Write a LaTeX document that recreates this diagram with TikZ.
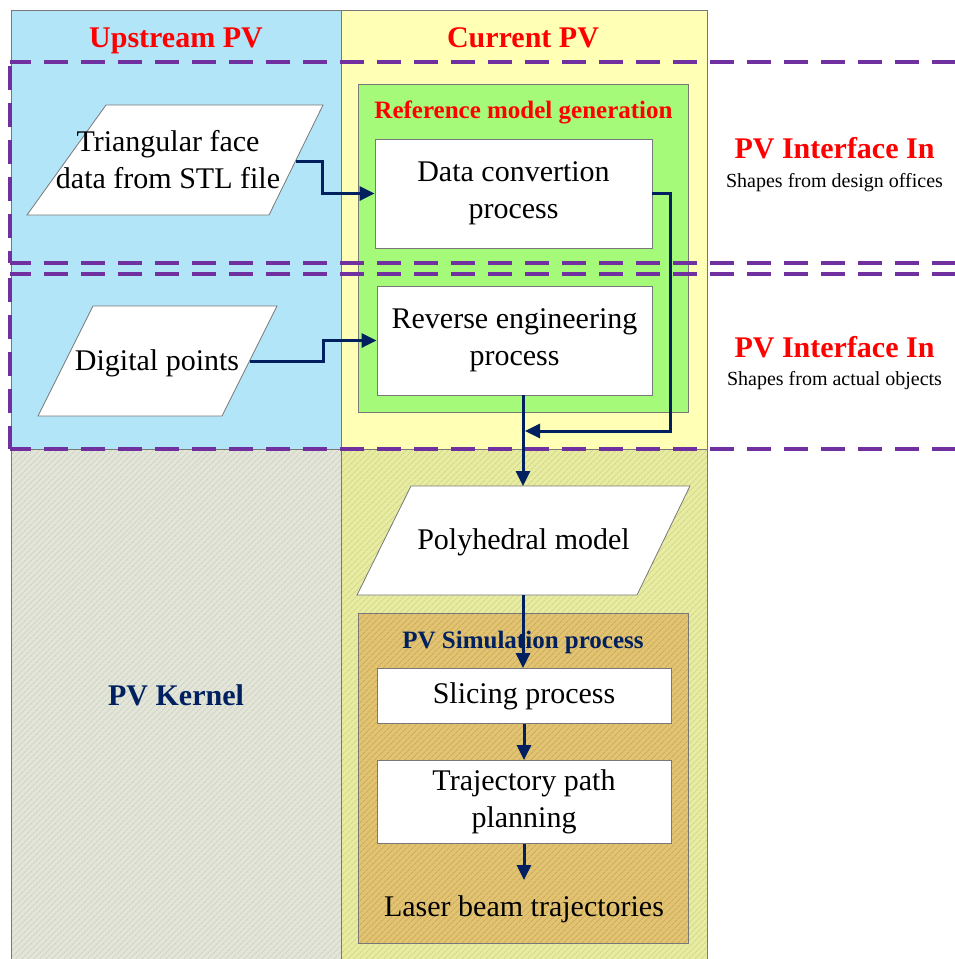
\documentclass[tikz,border=0pt]{standalone}
\usepackage{fontspec}
\setmainfont{Liberation Serif}
\usetikzlibrary{arrows.meta,patterns.meta}
\definecolor{ublue}{RGB}{179,229,249}
\definecolor{cyell}{RGB}{255,255,181}
\definecolor{rgreen}{RGB}{166,250,122}
\definecolor{kgrey}{RGB}{226,229,216}
\definecolor{kgreys}{RGB}{206,211,196}
\definecolor{kyel}{RGB}{232,236,162}
\definecolor{kyels}{RGB}{210,216,134}
\definecolor{sbrown}{RGB}{226,195,114}
\definecolor{sbrowns}{RGB}{204,172,92}
\definecolor{navy}{RGB}{0,32,96}
\definecolor{dpurple}{RGB}{112,48,160}
\definecolor{bordergrey}{RGB}{120,120,120}
\begin{document}
\begin{tikzpicture}[x=1pt,y=-1pt,
  colborder/.style={draw=bordergrey,line width=0.8pt},
  procbox/.style={draw=bordergrey,fill=white,line width=0.8pt,inner sep=2pt,
    font=\fontsize{30}{37}\selectfont,align=center},
  parabox/.style={draw=bordergrey,fill=white,line width=0.8pt},
  maintext/.style={font=\fontsize{30}{37}\selectfont,align=center,inner sep=0pt},
  bigtitle/.style={font=\fontsize{30}{36}\selectfont\bfseries,text=red,inner sep=0pt},
  kerneltitle/.style={font=\fontsize{30}{36}\selectfont\bfseries,text=navy,inner sep=0pt},
  subtitle/.style={font=\fontsize{25}{30}\selectfont\bfseries,inner sep=0pt},
  smalltext/.style={font=\fontsize{20}{24}\selectfont,inner sep=0pt},
  arr/.style={draw=navy,line width=3pt,-{Triangle[length=15pt,width=14pt]}},
  pvdash/.style={draw=dpurple,line width=3.3pt,dash pattern=on 24pt off 13pt},
  stripes/.style={pattern={Lines[angle=45,distance=4pt,line width=0.9pt]},pattern color=#1}
]
\useasboundingbox (0,0) rectangle (955,959);
% column backgrounds
\fill[ublue] (11,10) rectangle (341,449);
\fill[cyell] (341,10) rectangle (707,449);
\fill[kgrey] (11,449) rectangle (341,966);
\fill[stripes=kgreys] (11,449) rectangle (341,966);
\fill[kyel] (341,449) rectangle (707,966);
\fill[stripes=kyels] (341,449) rectangle (707,966);
\draw[colborder] (11,10) rectangle (341,966);
\draw[colborder] (341,10) rectangle (707,966);
\draw[colborder] (11,449) -- (707,449);
% group boxes
\draw[colborder,fill=rgreen] (358,84) rectangle (688,412);
\fill[sbrown] (358,613) rectangle (688,943);
\fill[stripes=sbrowns] (358,613) rectangle (688,943);
\draw[colborder] (358,613) rectangle (688,943);
% titles
\node[bigtitle,anchor=base] (up) at (176,47) {Upstream PV};
\node[bigtitle,anchor=base] (cur) at (523,47) {Current PV};
\node[subtitle,text=red,anchor=base] (refgen) at (523.5,118) {Reference model generation};
\node[subtitle,text=navy,anchor=base] (simproc) at (523,648) {PV Simulation process};
\node[kerneltitle,anchor=base] (kernel) at (176,705) {PV Kernel};
\node[bigtitle,anchor=base] (if1) at (834.5,158) {PV Interface In};
\node[smalltext,anchor=base] (if1s) at (834.5,187) {Shapes from design offices};
\node[bigtitle,anchor=base] (if2) at (834.5,357) {PV Interface In};
\node[smalltext,anchor=base] (if2s) at (834.5,385) {Shapes from actual objects};
% process boxes
\node[procbox,minimum width=277pt,minimum height=109pt] (data) at (513.5,193.5) {Data convertion\\process};
\node[procbox,minimum width=275pt,minimum height=109pt] (rev) at (514.5,340.5) {Reverse engineering\\process};
\node[procbox,minimum width=294pt,minimum height=55pt] (slice) at (524,696) {Slicing process};
\node[procbox,minimum width=294pt,minimum height=83pt] (traj) at (524,802) {Trajectory path\\planning};
% parallelograms
\draw[parabox] (106,105) -- (323,105) -- (269,215) -- (27,215) -- cycle;
\node[maintext] (tri) at (168,160) {Triangular face\\data from STL file};
\coordinate (triR) at (296,161);
\draw[parabox] (93,306) -- (277,306) -- (222,416) -- (38,416) -- cycle;
\node[maintext,anchor=base] (dig) at (157,370) {Digital points};
\coordinate (digR) at (249.5,361);
\draw[parabox] (411,486) -- (690,486) -- (637,595) -- (357,595) -- cycle;
\node[maintext,anchor=base] (poly) at (523.5,549) {Polyhedral model};
\coordinate (polyT) at (523,486);
\coordinate (polyB) at (523,595);
\node[maintext,anchor=base] (laser) at (524,916) {Laser beam trajectories};
\coordinate (laserin) at (524,880);
\coordinate (loopc) at (670,431);
\coordinate (join) at (525,431);
% dashed interface frames
\draw[pvdash] (956,62) -- (10,62);
\draw[pvdash] (10,66) -- (10,263);
\draw[pvdash] (956,263) -- (10,263);
\draw[pvdash] (956,274) -- (10,274);
\draw[pvdash] (10,278) -- (10,449);
\draw[pvdash] (956,449) -- (10,449);
% connectors
\draw[arr] (triR) -- ([xshift=26pt]triR) |- (data.west);
\draw[arr] (digR) -- ([xshift=73.5pt]digR) |- (rev.west);
\draw[arr] (data.east) -| (loopc) -- (join);
\draw[arr] (rev.south -| polyT) -- (polyT);
\draw[arr] (polyB) -- (polyB |- slice.north);
\draw[arr] (slice.south) -- (traj.north);
\draw[arr] (traj.south) -- (laserin);
\end{tikzpicture}
\end{document}
